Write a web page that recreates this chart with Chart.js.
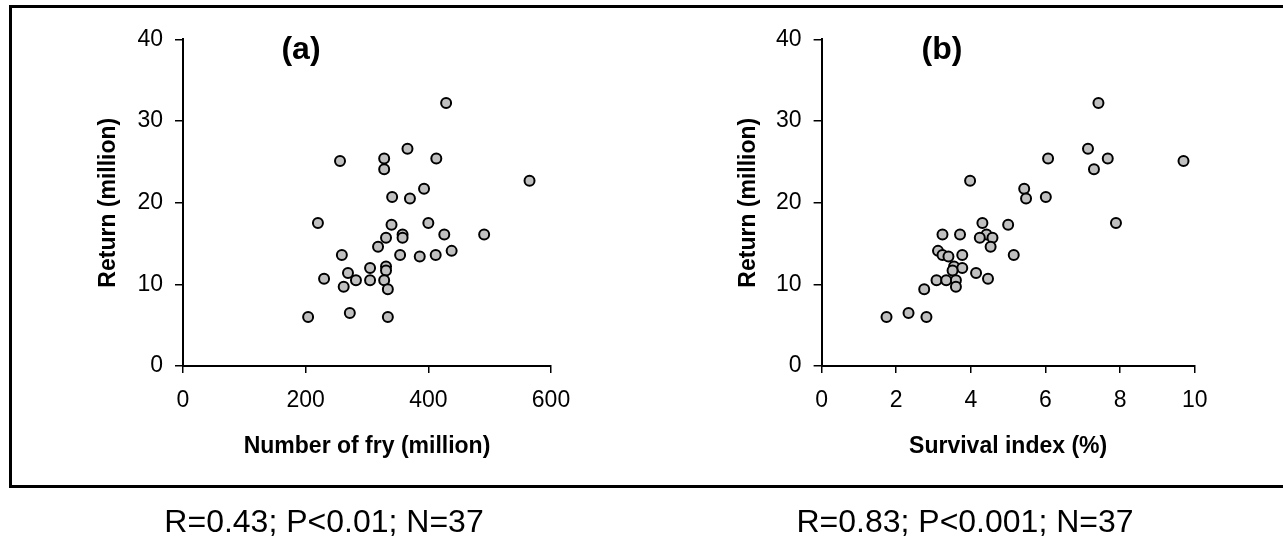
<!DOCTYPE html>
<html>
<head>
<meta charset="utf-8">
<script src="https://cdn.jsdelivr.net/npm/chart.js@4"></script>
<style>
  html, body { margin: 0; padding: 0; background: #fff; width: 1283px; height: 537px; overflow: hidden;
               font-family: "Liberation Sans", Arial, sans-serif; color: #000; }
  #frame { position: absolute; left: 9px; top: 5px; width: 1300px; height: 483px; box-sizing: border-box;
           border: 3px solid #000; border-right: none; }
  canvas { position: absolute; top: 0; }
  .tag { position: absolute; top: 32px; width: 80px; text-align: center; font-weight: bold; font-size: 32px; line-height: 32px; }
  .stat { position: absolute; top: 505px; width: 420px; text-align: center; font-size: 32px; line-height: 32px; }
</style>
</head>
<body>
<div id="frame"></div>
<canvas id="chartA" width="640" height="537" style="left:0"></canvas>
<canvas id="chartB" width="643" height="537" style="left:640px"></canvas>
<div class="tag" style="left:261px">(a)</div>
<div class="tag" style="left:902px">(b)</div>
<div class="stat" style="left:114px">R=0.43; P&lt;0.01; N=37</div>
<div class="stat" style="left:755px">R=0.83; P&lt;0.001; N=37</div>
<script>
// panel (a): number of fry vs return
const fryA = [429, 366, 256, 328, 328, 413, 565, 393, 341, 370, 220, 340, 400, 358, 358, 331, 426, 491,
              318, 438, 259, 354, 386, 412, 305, 331, 331, 269, 230, 282, 305, 328, 262, 334, 272, 204, 334];
const returnA = [32.2, 26.6, 25.1, 25.4, 24.1, 25.4, 22.7, 21.7, 20.7, 20.5, 17.5, 17.3, 17.5, 16.1, 15.7, 15.7, 16.1, 16.1,
                 14.6, 14.1, 13.6, 13.6, 13.4, 13.6, 12.0, 12.2, 11.7, 11.4, 10.7, 10.5, 10.5, 10.5, 9.7, 9.4, 6.5, 6.0, 6.0];

// panel (b): survival index vs return
const survivalB = [7.42, 7.14, 7.67, 7.30, 6.07, 9.70, 3.98, 5.43, 5.48, 6.01, 7.89, 4.31, 5.00, 3.24, 3.71, 4.42, 4.24, 4.58,
                   4.53, 3.12, 3.24, 3.40, 3.77, 5.15, 3.55, 3.77, 3.51, 4.14, 4.46, 3.08, 3.34, 3.60, 3.60, 2.75, 2.33, 1.74, 2.81];
const returnB = [32.2, 26.6, 25.4, 24.1, 25.4, 25.1, 22.7, 21.7, 20.5, 20.7, 17.5, 17.5, 17.3, 16.1, 16.1, 16.1, 15.7, 15.7,
                 14.6, 14.1, 13.6, 13.4, 13.6, 13.6, 12.2, 12.0, 11.7, 11.4, 10.7, 10.5, 10.5, 10.5, 9.7, 9.4, 6.5, 6.0, 6.0];

Chart.defaults.font.family = "'Liberation Sans', Arial, sans-serif";
Chart.defaults.color = '#000';

function makeChart(id, xs, ys, xMax, xStep, xTitle, geom) {
    const pts = xs.map((x, i) => ({ x: x, y: ys[i] }));
    return new Chart(document.getElementById(id), {
        type: 'scatter',
        data: {
            datasets: [{
                data: pts,
                backgroundColor: '#c0c0c0',
                borderColor: '#000',
                borderWidth: 2,
                pointRadius: 5,
                pointHoverRadius: 5
            }]
        },
        options: {
            responsive: false,
            animation: false,
            layout: { padding: { left: geom.left, top: 39.4, right: geom.right, bottom: 76.2 } },
            plugins: { legend: { display: false }, tooltip: { enabled: false } },
            scales: {
                x: {
                    type: 'linear', min: 0, max: xMax,
                    ticks: { stepSize: xStep, color: '#000', font: { size: 23 }, padding: 14, maxRotation: 0 },
                    grid: { drawOnChartArea: false, drawTicks: true, tickLength: 7, color: '#000', lineWidth: 1.5 },
                    border: { color: '#000', width: 2 },
                    title: { display: true, text: xTitle, color: '#000', font: { size: 23, weight: 'bold' }, padding: 0 },
                    afterFit: s => { s.height = 94.8; }
                },
                y: {
                    type: 'linear', min: 0, max: 40,
                    ticks: { stepSize: 10, color: '#000', font: { size: 23 }, padding: 12 },
                    grid: { drawOnChartArea: false, drawTicks: true, tickLength: 8, color: '#000', lineWidth: 1.5 },
                    border: { color: '#000', width: 2 },
                    title: { display: true, text: 'Return (million)', color: '#000', font: { size: 23, weight: 'bold' }, padding: 0 },
                    afterFit: s => { s.width = geom.yw; }
                }
            }
        }
    });
}

makeChart('chartA', fryA, returnA, 600, 200, 'Number of fry (million)', { left: 95.2, yw: 87.8, right: 89 });
makeChart('chartB', survivalB, returnB, 10, 2, 'Survival index (%)', { left: 94.7, yw: 86.9, right: 88.3 });
</script>
</body>
</html>
